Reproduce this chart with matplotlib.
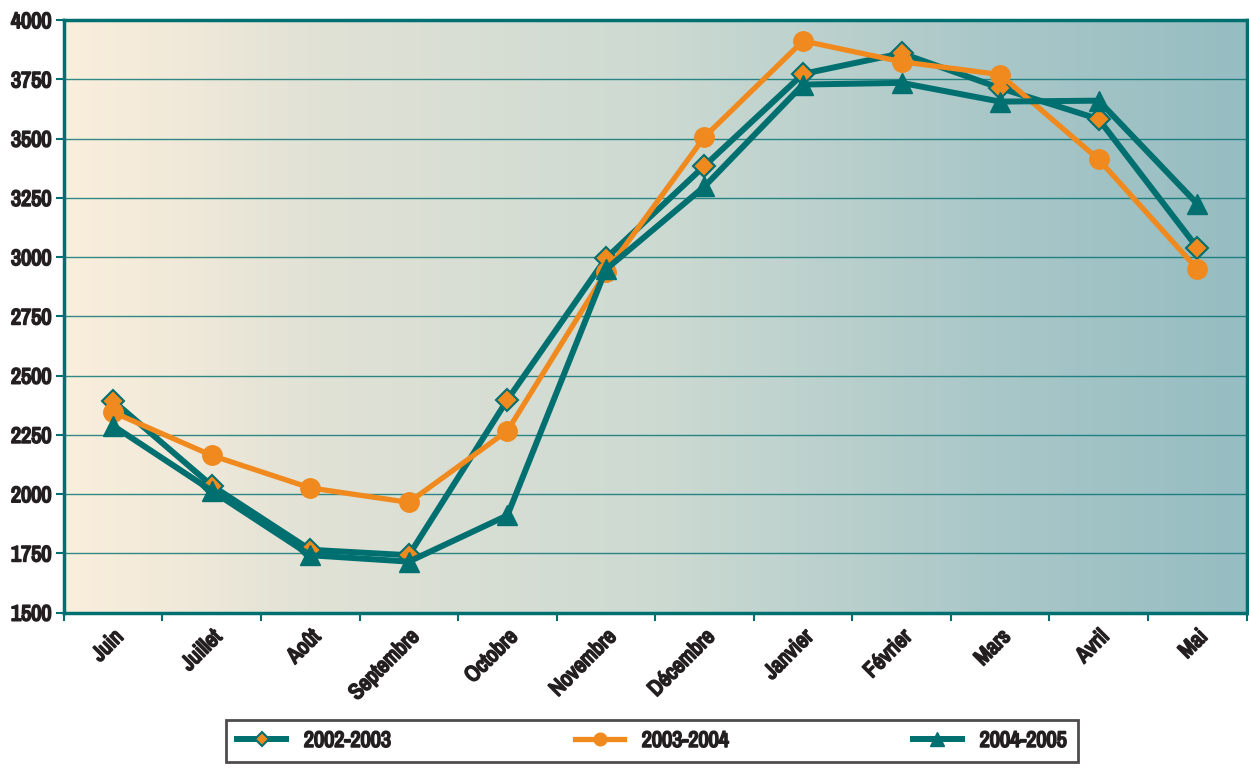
import numpy as np
import matplotlib
matplotlib.use("Agg")
import matplotlib.pyplot as plt
import matplotlib.patheffects as pe
from matplotlib import font_manager
from matplotlib.colors import LinearSegmentedColormap

# Data
mois = ["Juin", "Juillet", "Août", "Septembre", "Octobre", "Novembre",
        "Décembre", "Janvier", "Février", "Mars", "Avril", "Mai"]
s2002_2003 = [2393, 2036, 1765, 1742, 2398, 2995, 3385, 3773, 3860, 3713, 3582, 3040]
s2003_2004 = [2345, 2163, 2026, 1965, 2267, 2937, 3507, 3912, 3824, 3770, 3412, 2950]
s2004_2005 = [2288, 2014, 1742, 1715, 1910, 2948, 3298, 3728, 3735, 3656, 3660, 3225]
yticks = [1500, 1750, 2000, 2250, 2500, 2750, 3000, 3250, 3500, 3750, 4000]

teal = "#006F70"
orange = "#F08A1E"
ink = "#231F20"

# pick a narrow face if one is there
names = sorted(set(f.name for f in font_manager.fontManager.ttflist))
narrow = [n for n in names if 'Narrow' in n or 'Condensed' in n]
plt.rcParams['font.family'] = narrow[:1] + ['DejaVu Sans']
plt.rcParams['font.weight'] = 'bold'
plt.rcParams['font.stretch'] = 'condensed'
# fake a heavier weight
heavy = [pe.withStroke(linewidth=1.3, foreground=ink)]

fig = plt.figure(figsize=(12.49, 7.72), dpi=100)
ax = fig.add_axes([0.0512, 0.2065, 0.9468, 0.7675])

x = np.arange(len(mois))
xmin, xmax = -0.5, len(mois) - 0.5

# horizontal gradient background
cmap = LinearSegmentedColormap.from_list(
    "bg", [(0.0, "#FAEEDC"), (0.1, "#F0E9D9"), (0.2, "#E2E2D6"), (0.5, "#CDDAD2"),
           (0.79, "#A9C7C8"), (1.0, "#96BDC2")])
grad = np.linspace(0, 1, 256).reshape(1, -1)
ax.imshow(grad, cmap=cmap, aspect='auto', extent=[xmin, xmax, 1500, 4000],
          zorder=0, interpolation='bilinear')

for yv in yticks[1:-1]:
    ax.axhline(yv, color=teal, lw=1.0, alpha=0.8, zorder=1)

ax.plot(x, s2002_2003, '-', color=teal, lw=4.3, marker='D', ms=11,
        mfc=orange, mec=teal, mew=1.5, label="2002-2003", zorder=3)
ax.plot(x, s2003_2004, '-', color=orange, lw=3.8, marker='o', ms=14,
        mfc=orange, mec=orange, label="2003-2004", zorder=3)
ax.plot(x, s2004_2005, '-', color=teal, lw=4.3, marker='^', ms=15,
        mfc=teal, mec=teal, label="2004-2005", zorder=4)

ax.set_xlim(xmin, xmax)
ax.set_ylim(1500, 4000)
ax.set_yticks(yticks)
ax.set_yticklabels([str(v) for v in yticks], fontsize=16, color=ink)

# tick marks between categories, labels at category centres
ax.set_xticks(np.arange(xmin, xmax + 0.01, 1.0))
ax.set_xticklabels([])
ax.set_xticks(x, minor=True)
ax.set_xticklabels(mois, minor=True, rotation=45, ha='right', rotation_mode='anchor',
                   fontsize=16, color=ink)
ax.tick_params(axis='x', which='minor', length=0, pad=10)
ax.tick_params(axis='x', which='major', length=6, color=teal, width=1.5)
ax.tick_params(axis='y', length=6, color=teal, width=1.5, pad=3)
for t in ax.get_yticklabels() + ax.get_xticklabels(minor=True):
    t.set_path_effects(heavy)

for side in ['left', 'bottom', 'top', 'right']:
    ax.spines[side].set_color(teal)
    ax.spines[side].set_linewidth(2.5)

leg = fig.legend(loc='lower left', bbox_to_anchor=(0.181, 0.013, 0.682, 0.057),
                 mode='expand', ncol=3, frameon=True, fancybox=False,
                 prop={'size': 16}, handlelength=2.2, handletextpad=0.8,
                 borderpad=0.5, borderaxespad=0, markerscale=0.65)
leg.get_frame().set_edgecolor(ink)
leg.get_frame().set_linewidth(2)
for t in leg.get_texts():
    t.set_color(ink)
    t.set_path_effects(heavy)

plt.savefig("out.png", dpi=100)
